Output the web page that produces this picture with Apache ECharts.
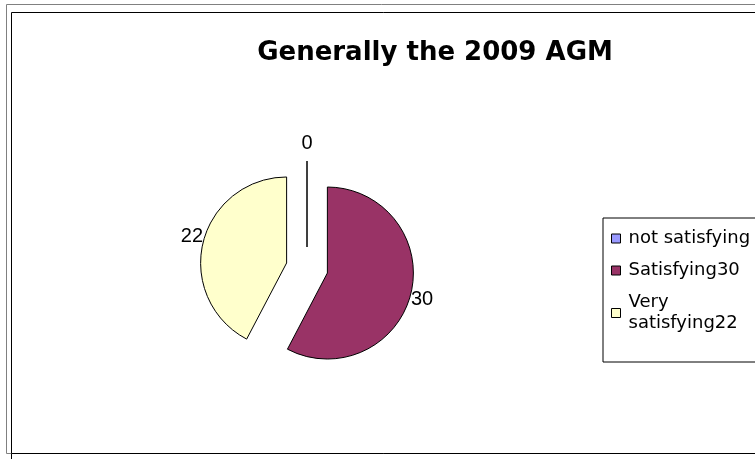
<!DOCTYPE html>
<html>
<head>
<meta charset="utf-8">
<script src="https://cdn.jsdelivr.net/npm/echarts@6/dist/echarts.min.js"></script>
<style>
html,body{margin:0;padding:0;background:#fff;}
#chart{width:755px;height:459px;}
</style>
</head>
<body>
<div id="chart"></div>
<script>
var titleText = 'Generally the 2009 AGM';
var categories = ['not satisfying', 'Satisfying30', 'Very satisfying22'];
var legendLabels = ['not satisfying', 'Satisfying30', 'Very\nsatisfying22'];
var values = [0, 30, 22];
var colors = ['#9999FF', '#993366', '#FFFFCC'];

var font = '"Liberation Sans", Arial, sans-serif';
var wideFont = '"DejaVu Sans", sans-serif';
var chart = echarts.init(document.getElementById('chart'), null, {renderer: 'canvas'});

var pieData = categories.map(function (c, i) {
  var item = {
    name: c,
    value: values[i],
    selected: true,
    itemStyle: {color: colors[i]}
  };
  if (values[i] === 0) {
    item.labelLine = {show: false, length: 18, length2: 0};
  }
  return item;
});

chart.setOption({
  animation: false,
  backgroundColor: '#fff',
  title: {
    text: titleText,
    left: 430,
    top: 35,
    textAlign: 'center',
    textStyle: {fontFamily: wideFont, fontWeight: 'bold', fontSize: 26, color: '#000'}
  },
  legend: {
    orient: 'vertical',
    left: 603,
    top: 218,
    padding: [10, 40, 28, 8],
    borderColor: '#000',
    borderWidth: 1,
    itemGap: 11,
    itemWidth: 9,
    itemHeight: 9,
    icon: 'rect',
    selectedMode: false,
    data: categories,
    itemStyle: {borderColor: '#000', borderWidth: 1},
    formatter: function (name) {
      return legendLabels[categories.indexOf(name)];
    },
    textStyle: {fontFamily: wideFont, fontSize: 18, color: '#000', lineHeight: 21, padding: [0, 0, 0, 3]}
  },
  graphic: [
    {type: 'rect', silent: true, shape: {x: 6.5, y: 4.5, width: 800, height: 449}, style: {fill: null, stroke: '#808080', lineWidth: 1}},
    {type: 'rect', silent: true, shape: {x: 11.5, y: 12.5, width: 800, height: 441}, style: {fill: null, stroke: '#000', lineWidth: 1}},
    {type: 'line', silent: true, shape: {x1: 11.5, y1: 454, x2: 11.5, y2: 460}, style: {stroke: '#000', lineWidth: 1}}
  ],
  series: [{
    type: 'pie',
    center: [307, 268],
    radius: 86,
    startAngle: 90,
    clockwise: true,
    selectedMode: 'multiple',
    selectedOffset: 21,
    avoidLabelOverlap: false,
    minAngle: 0,
    data: pieData,
    itemStyle: {borderColor: '#000', borderWidth: 1},
    select: {itemStyle: {borderColor: '#000', borderWidth: 1}},
    emphasis: {disabled: true},
    label: {
      show: true,
      position: 'outside',
      formatter: '{c}',
      fontFamily: font,
      fontSize: 20,
      color: '#000',
      distanceToLabelLine: 0
    },
    labelLine: {show: false, length: 0, length2: 0},
    labelLayout: function (params) {
      if (params.dataIndex === 0) {
        return {align: 'center'};
      }
      var rightSide = params.labelRect.x > params.rect.x + params.rect.width / 2;
      return {dy: rightSide ? 6 : -6};
    }
  }]
});
</script>
</body>
</html>
